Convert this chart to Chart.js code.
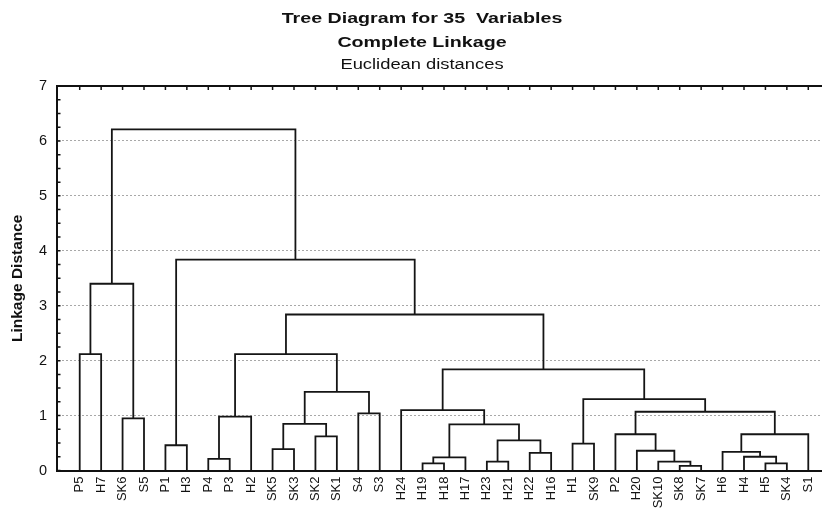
<!DOCTYPE html>
<html>
<head>
<meta charset="utf-8">
<script src="https://cdn.jsdelivr.net/npm/chart.js@4.4.1/dist/chart.umd.min.js"></script>
<style>
  html, body { margin: 0; padding: 0; background: #fff; }
  #wrap { width: 822px; height: 509px; }
</style>
</head>
<body>
<div id="wrap"><canvas id="chart" width="822" height="509"></canvas></div>
<script>
const leaves = ['P5', 'H7', 'SK6', 'S5', 'P1', 'H3', 'P4', 'P3', 'H2', 'SK5', 'SK3', 'SK2', 'SK1', 'S4', 'S3',
  'H24', 'H19', 'H18', 'H17', 'H23', 'H21', 'H22', 'H16', 'H1', 'SK9', 'P2', 'H20', 'SK10', 'SK8', 'SK7',
  'H6', 'H4', 'H5', 'SK4', 'S1'];

// link k joins linkLeft[k] and linkRight[k]; ids < 35 are leaves, link k makes node 35 + k
const linkLeft  = [28, 16, 32, 27, 19, 6, 36, 31, 21, 30, 26, 9, 4, 23, 39, 11, 25, 44, 41, 46, 2, 40, 13, 51, 15, 48, 54, 59, 0, 56, 64, 63, 47, 66];
const linkRight = [29, 17, 33, 35, 20, 7, 18, 37, 22, 42, 38, 10, 5, 24, 43, 12, 45, 34, 49, 50, 3, 8, 14, 52, 53, 58, 57, 60, 1, 61, 62, 55, 65, 67];
const linkHeight = [0.085, 0.13, 0.13, 0.16, 0.16, 0.21, 0.24, 0.25, 0.32, 0.34, 0.36, 0.39, 0.46, 0.49, 0.55, 0.62, 0.66, 0.66,
  0.84, 0.85, 0.95, 0.98, 1.04, 1.07, 1.10, 1.30, 1.43, 1.84, 2.12, 2.12, 2.84, 3.40, 3.84, 6.21];
const yTicks = [0, 1, 2, 3, 4, 5, 6, 7];
const titleLines = ['Tree Diagram for 35  Variables', 'Complete Linkage', 'Euclidean distances'];

const FONT = "'Liberation Sans', Arial, sans-serif";
Chart.defaults.font.family = FONT;
Chart.defaults.color = '#111';

// node positions: leaves sit at their index, a cluster sits midway between its two children
const nodeX = leaves.map((_, i) => i);
const nodeY = leaves.map(() => 0);
const datasets = linkHeight.map((h, k) => {
  const a = linkLeft[k];
  const b = linkRight[k];
  nodeX.push((nodeX[a] + nodeX[b]) / 2);
  nodeY.push(h);
  return {
    data: [
      { x: nodeX[a], y: nodeY[a] },
      { x: nodeX[a], y: h },
      { x: nodeX[b], y: h },
      { x: nodeX[b], y: nodeY[b] }
    ],
    showLine: true,
    borderColor: '#151515',
    borderWidth: 1.8,
    pointRadius: 0,
    tension: 0
  };
});

// wide-set heading, three lines
const heading = {
  id: 'heading',
  afterDraw(chart) {
    const ctx = chart.ctx;
    const rows = [
      { text: titleLines[0], font: 'bold 15px ' + FONT, base: 22.7 },
      { text: titleLines[1], font: 'bold 15px ' + FONT, base: 46.7 },
      { text: titleLines[2], font: '14px ' + FONT, base: 69 }
    ];
    ctx.save();
    ctx.fillStyle = '#111';
    ctx.textAlign = 'center';
    ctx.textBaseline = 'alphabetic';
    rows.forEach(r => {
      ctx.save();
      ctx.translate(422, r.base);
      ctx.scale(1.31, 1);
      ctx.font = r.font;
      ctx.fillText(r.text, 0, 0);
      ctx.restore();
    });
    ctx.restore();
  }
};

// frame top line plus the small inward ticks
const frameTicks = {
  id: 'frameTicks',
  afterDatasetsDraw(chart) {
    const { ctx, chartArea } = chart;
    const x = chart.scales.x;
    const y = chart.scales.y;
    ctx.save();
    ctx.strokeStyle = '#111';
    ctx.lineWidth = 2;
    ctx.beginPath();
    ctx.moveTo(chartArea.left - 1, chartArea.top);
    ctx.lineTo(chartArea.right, chartArea.top);
    ctx.stroke();
    ctx.lineWidth = 1.5;
    ctx.beginPath();
    leaves.forEach((_, i) => {
      const px = x.getPixelForValue(i);
      ctx.moveTo(px, chartArea.top);
      ctx.lineTo(px, chartArea.top + 4);
    });
    for (let v = 0; v <= 7; v += 0.25) {
      const py = y.getPixelForValue(v);
      ctx.moveTo(chartArea.left, py);
      ctx.lineTo(chartArea.left + 3.5, py);
    }
    ctx.stroke();
    ctx.restore();
  }
};

new Chart(document.getElementById('chart'), {
  type: 'scatter',
  data: { datasets },
  options: {
    responsive: false,
    animation: false,
    layout: { padding: { top: 86, left: 0, right: 0, bottom: 0 } },
    plugins: {
      legend: { display: false },
      tooltip: { enabled: false }
    },
    scales: {
      x: {
        type: 'linear',
        min: -1.06,
        max: 34.64,
        afterBuildTicks: (scale) => { scale.ticks = leaves.map((_, i) => ({ value: i })); },
        afterFit: (scale) => {
          scale.height = 38.5;
          scale.paddingLeft = 0;
          scale.paddingRight = 0;
        },
        grid: { display: false, drawTicks: false },
        border: { display: true, color: '#111', width: 2 },
        ticks: {
          autoSkip: false,
          minRotation: 90,
          maxRotation: 90,
          padding: 6,
          font: { size: 13 },
          callback: (v) => leaves[v]
        }
      },
      y: {
        min: 0,
        max: 7,
        afterBuildTicks: (scale) => { scale.ticks = yTicks.map(v => ({ value: v })); },
        afterFit: (scale) => { scale.width = 57; },
        grid: {
          drawTicks: false,
          lineWidth: 1,
          color: (c) => (c.tick && c.tick.value > 0 && c.tick.value < 7) ? '#a8a8a8' : 'rgba(0,0,0,0)'
        },
        border: { display: true, color: '#111', width: 2, dash: [2, 2] },
        ticks: { padding: 10, font: { size: 14.5 } },
        title: {
          display: true,
          text: 'Linkage Distance',
          font: { size: 15.5, weight: 'bold' },
          padding: { top: 8, bottom: 0 }
        }
      }
    }
  },
  plugins: [frameTicks, heading]
});
</script>
</body>
</html>
